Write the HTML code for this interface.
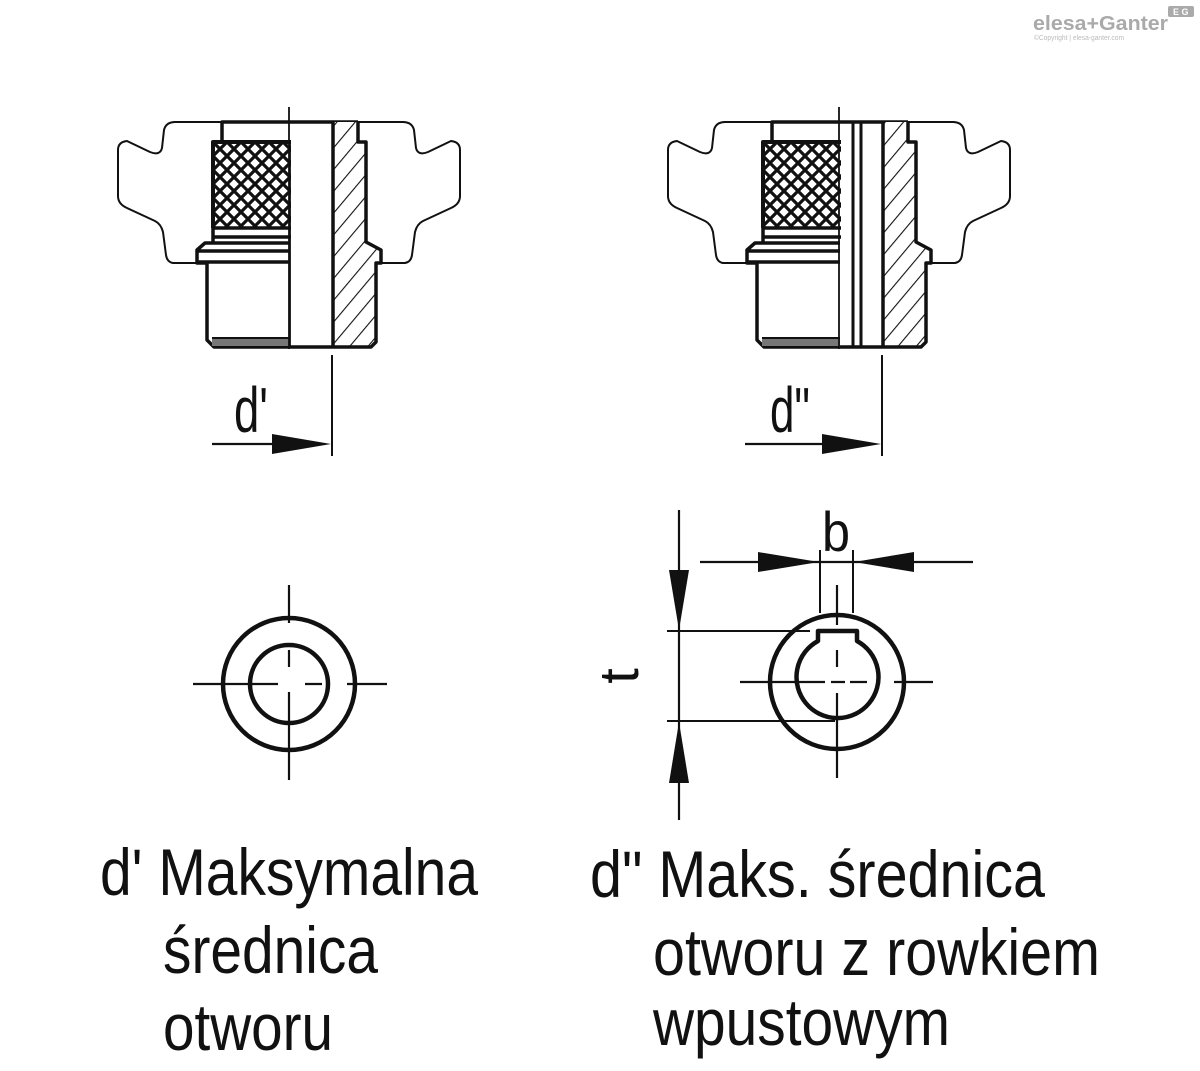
<!DOCTYPE html>
<html><head><meta charset="utf-8"><style>html,body{margin:0;padding:0;background:#fff;}svg{display:block}</style></head>
<body>
<svg width="1200" height="1071" viewBox="0 0 1200 1071" xmlns="http://www.w3.org/2000/svg">
<defs>
<pattern id="knurl" patternUnits="userSpaceOnUse" width="14" height="14" x="213" y="142">
<rect width="14" height="14" fill="#fff"/>
<path d="M-2,-2 L16,16 M-2,12 L2,16 M12,-2 L16,2 M16,-2 L-2,16 M2,-2 L-2,2 M16,12 L12,16" stroke="#111" stroke-width="3.2"/>
</pattern>
<pattern id="hatch" patternUnits="userSpaceOnUse" width="14" height="14" patternTransform="rotate(-50)">
<rect width="14" height="14" fill="#fff"/>
<line x1="0" y1="0" x2="14" y2="0" stroke="#111" stroke-width="2.2"/>
</pattern>
<g id="knob" fill="none" stroke="#111" stroke-linejoin="round">
<path d="M197,263 L173,263 Q167,262 166,255 L163,232 Q161,224 155,221 L127,208 Q118,204 118,196 L118,150 Q118,142 127,141 L150,152 Q160,156 162,148 L164,130 Q166,122 175,122 L403,122 Q412,122 414,130 L416,148 Q418,156 428,152 L451,141 Q460,142 460,150 L460,196 Q460,204 451,208 L423,221 Q417,224 415,232 L412,255 Q411,262 405,263 L381,263" stroke-width="2"/>
<rect x="213" y="142" width="78" height="86" fill="url(#knurl)" stroke="none"/>
<path d="M213,228 L213,142 L291,142" stroke-width="4"/>
<path d="M222,142 L222,122 L358,122" stroke-width="3.5"/>
<path d="M213,228 L291,228 M213,237 L291,237 M213,228 L213,242" stroke-width="3.5"/>
<path d="M290,243 L205,243 L197,250 L197,263 L207,263 M197,251 L290,251 M197,262 L290,262" stroke-width="3.5"/>
<path d="M207,262 L207,340 L214,347 L290,347" stroke-width="3.5"/>
<rect x="212" y="338" width="78" height="8" fill="#777" stroke="none"/>
<line x1="212" y1="338" x2="290" y2="338" stroke-width="2"/>
</g>
</defs>

<use href="#knob"/>
<path d="M333,122 L358,122 L358,142 L366,142 L366,242 L380,250 L376,262 L376,342 L371,347 L333,347 Z" fill="url(#hatch)" stroke="none"/>
<path d="M358,122 L358,142 L366,142 L366,242 L381,250 L381,263 L376,263 L376,342 L371,347 L290,347" fill="none" stroke="#111" stroke-width="3.5" stroke-linejoin="round"/>
<line x1="333" y1="122" x2="333" y2="347" stroke="#111" stroke-width="3.5"/>
<line x1="289" y1="107" x2="289" y2="349" stroke="#111" stroke-width="1.8"/>
<line x1="290" y1="142" x2="290" y2="347" stroke="#111" stroke-width="1.8"/>
<line x1="332" y1="355" x2="332" y2="456" stroke="#111" stroke-width="2"/>
<line x1="212" y1="444" x2="275" y2="444" stroke="#111" stroke-width="2.2"/>
<polygon points="272,434 331,444 272,454" fill="#111"/>
<text x="234" y="432" font-family="Liberation Sans, sans-serif" font-size="64" textLength="34" lengthAdjust="spacingAndGlyphs" fill="#111">d'</text>

<use href="#knob" transform="translate(550,0)"/>
<path d="M883,122 L908,122 L908,142 L916,142 L916,242 L930,250 L926,262 L926,342 L921,347 L883,347 Z" fill="url(#hatch)" stroke="none"/>
<path d="M908,122 L908,142 L916,142 L916,242 L931,250 L931,263 L926,263 L926,342 L921,347 L840,347" fill="none" stroke="#111" stroke-width="3.5" stroke-linejoin="round"/>
<line x1="883" y1="122" x2="883" y2="347" stroke="#111" stroke-width="3.5"/>
<line x1="853" y1="122" x2="853" y2="347" stroke="#111" stroke-width="3"/>
<line x1="861" y1="122" x2="861" y2="347" stroke="#111" stroke-width="3"/>
<line x1="839" y1="107" x2="839" y2="349" stroke="#111" stroke-width="1.8"/>
<line x1="882" y1="355" x2="882" y2="456" stroke="#111" stroke-width="2"/>
<line x1="745" y1="444" x2="825" y2="444" stroke="#111" stroke-width="2.2"/>
<polygon points="822,434 881,444 822,454" fill="#111"/>
<text x="770" y="432" font-family="Liberation Sans, sans-serif" font-size="64" textLength="40" lengthAdjust="spacingAndGlyphs" fill="#111">d"</text>

<g stroke="#111" fill="none">
<circle cx="289" cy="684" r="66" stroke-width="4.5"/>
<circle cx="289" cy="684" r="39" stroke-width="4.5"/>
<path d="M193,684 L278,684 M305,684 L322,684 M347,684 L387,684 M289,585 L289,623 M289,650 L289,667 M289,692 L289,780" stroke-width="2.2"/>
</g>

<g stroke="#111" fill="none">
<circle cx="837" cy="682" r="67" stroke-width="4.5"/>
<path d="M818,641 L818,631 L857,631 L857,641 A41,41 0 1 1 818,641 Z" stroke-width="4.5" stroke-linejoin="round"/>
<path d="M740,682 L825,682 M831,682 L845,682 M850,682 L867,682 M894,682 L933,682 M837,585 L837,625 M837,650 L837,667 M837,693 L837,778" stroke-width="2.2"/>
<path d="M820,550 L820,613 M853,550 L853,613" stroke-width="2"/>
<line x1="700" y1="562" x2="973" y2="562" stroke-width="2.2"/>
<line x1="679" y1="510" x2="679" y2="820" stroke-width="2.2"/>
<line x1="667" y1="631" x2="810" y2="631" stroke-width="2"/>
<line x1="667" y1="721" x2="835" y2="721" stroke-width="2"/>
</g>
<polygon points="758,552 819,562 758,572" fill="#111"/>
<polygon points="914,552 854,562 914,572" fill="#111"/>
<polygon points="669,570 689,570 679,630" fill="#111"/>
<polygon points="669,783 689,783 679,722" fill="#111"/>
<text x="822" y="551" font-family="Liberation Sans, sans-serif" font-size="56" textLength="28" lengthAdjust="spacingAndGlyphs" fill="#111">b</text>
<text transform="translate(638,676) rotate(-90)" x="0" y="0" text-anchor="middle" font-family="Liberation Sans, sans-serif" font-size="56" fill="#111">t</text>

<text x="1033" y="30" font-family="Liberation Sans, sans-serif" font-size="20" font-weight="bold" fill="#aaa" textLength="135" lengthAdjust="spacingAndGlyphs">elesa+Ganter</text>
<text x="1034" y="40" font-family="Liberation Sans, sans-serif" font-size="7" fill="#bbb" textLength="90" lengthAdjust="spacingAndGlyphs">©Copyright | elesa-ganter.com</text>
<rect x="1168" y="6" width="26" height="11" rx="2" fill="#aaa"/>
<text x="1173" y="15" font-family="Liberation Sans, sans-serif" font-size="9" font-weight="bold" fill="#fff">E G</text>

<g font-family="Liberation Sans, sans-serif" font-size="66" fill="#111">
<text x="100" y="895" textLength="378" lengthAdjust="spacingAndGlyphs">d' Maksymalna</text>
<text x="163" y="973" textLength="215" lengthAdjust="spacingAndGlyphs">średnica</text>
<text x="163" y="1050" textLength="170" lengthAdjust="spacingAndGlyphs">otworu</text>
<text x="590" y="897" textLength="455" lengthAdjust="spacingAndGlyphs">d" Maks. średnica</text>
<text x="653" y="975" textLength="447" lengthAdjust="spacingAndGlyphs">otworu z rowkiem</text>
<text x="653" y="1045" textLength="297" lengthAdjust="spacingAndGlyphs">wpustowym</text>
</g>
</svg>
</body></html>
